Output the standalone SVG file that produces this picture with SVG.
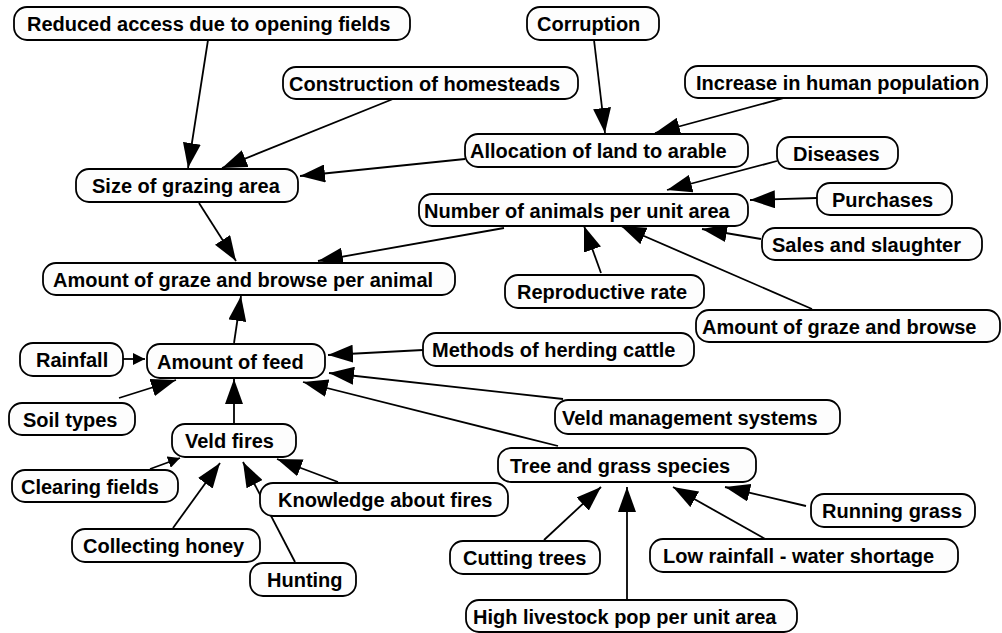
<svg xmlns="http://www.w3.org/2000/svg" width="1002" height="633" viewBox="0 0 1002 633">
<style>
.n rect{fill:#fdfdfd;stroke:#000;stroke-width:1.8}
.n text{font-family:"Liberation Sans",Arial,sans-serif;font-weight:bold;font-size:20px;fill:#000}
.c line{stroke:#000;stroke-width:1.8;marker-end:url(#ah)}
.c line.s{marker-end:url(#as)}
</style>
<defs>
<marker id="ah" markerUnits="userSpaceOnUse" viewBox="0 0 25 18" markerWidth="25" markerHeight="18" refX="25" refY="9" orient="auto"><path d="M0,0 L25,9 L0,18 z" fill="#000"/></marker>
<marker id="as" markerUnits="userSpaceOnUse" viewBox="0 0 12 12" markerWidth="12" markerHeight="12" refX="12" refY="6" orient="auto"><path d="M0,0 L12,6 L0,12 z" fill="#000"/></marker>
</defs>
<rect width="1002" height="633" fill="#fff"/>
<g id="connectors" class="c">
<line x1="208" y1="40" x2="188" y2="168"/>
<line x1="393" y1="99" x2="222" y2="168"/>
<line x1="465" y1="159" x2="300" y2="176"/>
<line x1="594" y1="40" x2="605" y2="133"/>
<line x1="784" y1="98" x2="655" y2="133"/>
<line x1="777" y1="161" x2="667" y2="190"/>
<line x1="817" y1="198" x2="750" y2="200"/>
<line x1="761" y1="239" x2="702" y2="229"/>
<line x1="601" y1="273" x2="584" y2="226"/>
<line x1="812" y1="309" x2="621" y2="226"/>
<line x1="199" y1="203" x2="236" y2="261"/>
<line x1="504" y1="228" x2="318" y2="261"/>
<line x1="234" y1="343" x2="241" y2="296"/>
<line class="s" x1="123" y1="359" x2="145" y2="359"/>
<line x1="423" y1="350" x2="328" y2="355"/>
<line x1="563" y1="399" x2="329" y2="373"/>
<line x1="558" y1="446" x2="303" y2="382"/>
<line x1="119" y1="398" x2="176" y2="380"/>
<line x1="234" y1="424" x2="234" y2="379"/>
<line class="s" x1="150" y1="469" x2="180" y2="458"/>
<line x1="173" y1="528" x2="220" y2="463"/>
<line x1="295" y1="562" x2="243" y2="462"/>
<line x1="338" y1="482" x2="277" y2="459"/>
<line x1="544" y1="540" x2="601" y2="487"/>
<line x1="627" y1="600" x2="627" y2="487"/>
<line x1="767" y1="540" x2="673" y2="487"/>
<line x1="806" y1="506" x2="725" y2="487"/>
</g>
<g id="n_reduced" class="n"><rect x="14" y="7" width="396" height="33" rx="13"/><text x="27" y="31">Reduced access due to opening fields</text></g>
<g id="n_corruption" class="n"><rect x="527" y="7" width="132" height="33" rx="13"/><text x="537" y="31">Corruption</text></g>
<g id="n_construction" class="n"><rect x="283" y="67" width="295" height="32" rx="13"/><text x="289" y="90.5">Construction of homesteads</text></g>
<g id="n_increase" class="n"><rect x="685" y="66" width="302" height="32" rx="13"/><text x="696" y="89.5">Increase in human population</text></g>
<g id="n_allocation" class="n"><rect x="465" y="134" width="283" height="33" rx="13"/><text x="470" y="158">Allocation of land to arable</text></g>
<g id="n_diseases" class="n"><rect x="777" y="137" width="121" height="32" rx="13"/><text x="793" y="160.5">Diseases</text></g>
<g id="n_size" class="n"><rect x="76" y="169" width="222" height="33" rx="13"/><text x="92" y="193">Size of grazing area</text></g>
<g id="n_purchases" class="n"><rect x="817" y="183" width="135" height="32" rx="13"/><text x="832" y="206.5">Purchases</text></g>
<g id="n_number" class="n"><rect x="419" y="194" width="329" height="32" rx="13"/><text x="424" y="217.5">Number of animals per unit area</text></g>
<g id="n_sales" class="n"><rect x="762" y="228" width="220" height="32" rx="13"/><text x="772" y="251.5">Sales and slaughter</text></g>
<g id="n_animal" class="n"><rect x="43" y="263" width="412" height="32" rx="13"/><text x="53" y="286.5">Amount of graze and browse per animal</text></g>
<g id="n_reproductive" class="n"><rect x="505" y="275" width="199" height="33" rx="13"/><text x="517" y="299">Reproductive rate</text></g>
<g id="n_agb" class="n"><rect x="696" y="310" width="304" height="32" rx="13"/><text x="702" y="333.5">Amount of graze and browse</text></g>
<g id="n_rainfall" class="n"><rect x="20" y="343" width="103" height="33" rx="13"/><text x="36" y="367">Rainfall</text></g>
<g id="n_feed" class="n"><rect x="147" y="344" width="178" height="34" rx="13"/><text x="157" y="368.5">Amount of feed</text></g>
<g id="n_methods" class="n"><rect x="423" y="333" width="271" height="33" rx="13"/><text x="432" y="357">Methods of herding cattle</text></g>
<g id="n_soil" class="n"><rect x="9" y="403" width="126" height="32" rx="13"/><text x="23" y="426.5">Soil types</text></g>
<g id="n_veldmgmt" class="n"><rect x="555" y="400" width="285" height="34" rx="13"/><text x="562" y="424.5">Veld management systems</text></g>
<g id="n_veldfires" class="n"><rect x="172" y="424" width="124" height="33" rx="13"/><text x="185" y="448">Veld fires</text></g>
<g id="n_tree" class="n"><rect x="498" y="448" width="258" height="34" rx="13"/><text x="510" y="472.5">Tree and grass species</text></g>
<g id="n_clearing" class="n"><rect x="12" y="470" width="166" height="32" rx="13"/><text x="21" y="493.5">Clearing fields</text></g>
<g id="n_knowledge" class="n"><rect x="260" y="483" width="248" height="33" rx="13"/><text x="278" y="507">Knowledge about fires</text></g>
<g id="n_running" class="n"><rect x="811" y="494" width="164" height="33" rx="13"/><text x="822" y="518">Running grass</text></g>
<g id="n_collecting" class="n"><rect x="72" y="529" width="188" height="33" rx="13"/><text x="83" y="553">Collecting honey</text></g>
<g id="n_cutting" class="n"><rect x="450" y="541" width="150" height="33" rx="13"/><text x="463" y="565">Cutting trees</text></g>
<g id="n_lowrain" class="n"><rect x="650" y="539" width="308" height="33" rx="13"/><text x="663" y="563">Low rainfall - water shortage</text></g>
<g id="n_hunting" class="n"><rect x="250" y="563" width="106" height="33" rx="13"/><text x="267" y="587">Hunting</text></g>
<g id="n_high" class="n"><rect x="466" y="600" width="331" height="32" rx="13"/><text x="473" y="623.5">High livestock pop per unit area</text></g>
</svg>
